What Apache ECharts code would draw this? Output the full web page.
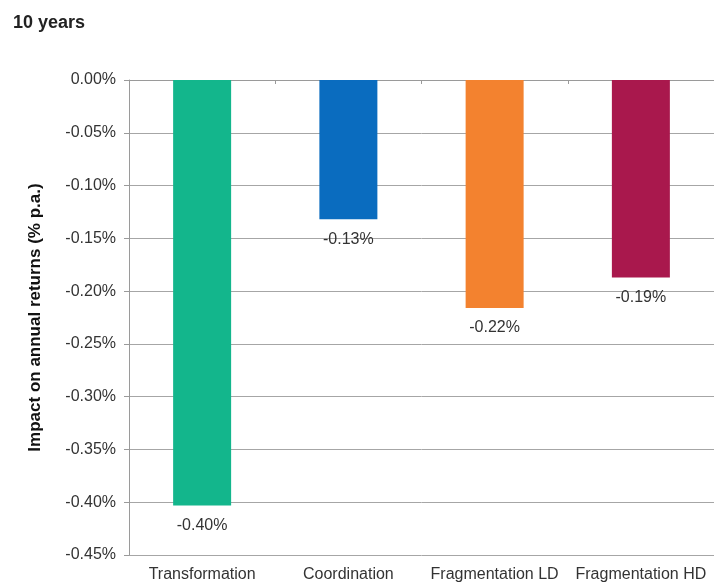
<!DOCTYPE html>
<html>
<head>
<meta charset="utf-8">
<script src="https://cdn.jsdelivr.net/npm/echarts@6/dist/echarts.min.js"></script>
<style>
  html, body { margin: 0; padding: 0; background: #fff; }
  #chart { width: 714px; height: 584px; }
</style>
</head>
<body>
<div id="chart"></div>
<script>
// Impact of each scenario on annual returns over a 10-year horizon (% p.a.)
const categories = ['Transformation', 'Coordination', 'Fragmentation LD', 'Fragmentation HD'];
const impactValues = [-0.403, -0.132, -0.216, -0.187];
const barColors = ['#13b68c', '#0a6cbf', '#f3822f', '#a9184d'];
const yTicks = { min: -0.45, max: 0, interval: 0.05 };

const font = 'Liberation Sans, Arial, sans-serif';
const textColor = '#333333';

const chart = echarts.init(document.getElementById('chart'), null, { renderer: 'canvas' });

chart.setOption({
  animation: false,
  backgroundColor: '#ffffff',
  title: {
    text: '10 years',
    left: 8,
    top: 9,
    textStyle: { fontFamily: font, fontSize: 18, fontWeight: 'bold', color: '#222222' }
  },
  grid: { left: 129, right: 0, top: 80, bottom: 29, containLabel: false },
  xAxis: [
    {
      type: 'category',
      data: categories,
      position: 'bottom',
      axisLine: { show: false },
      axisTick: { show: false },
      axisLabel: { margin: 12, fontFamily: font, fontSize: 16, color: textColor, interval: 0 }
    },
    {
      // zero line at the top with short boundary ticks
      type: 'category',
      data: categories,
      position: 'top',
      axisLine: { show: true, onZero: false, lineStyle: { color: '#9a9a9a', width: 1 } },
      axisTick: { show: true, inside: true, length: 4, lineStyle: { color: '#9a9a9a' } },
      axisLabel: { show: false }
    }
  ],
  yAxis: {
    type: 'value',
    min: yTicks.min,
    max: yTicks.max,
    interval: yTicks.interval,
    name: 'Impact on annual returns (% p.a.)',
    nameLocation: 'middle',
    nameGap: 85,
    nameRotate: 90,
    nameTextStyle: { fontFamily: font, fontSize: 17, fontWeight: 'bold', color: '#111111' },
    axisLine: { show: true, lineStyle: { color: '#9a9a9a', width: 1 } },
    axisTick: { show: true, length: 5, lineStyle: { color: '#9a9a9a' } },
    splitLine: { show: true, lineStyle: { color: '#a6a6a6', width: 1 } },
    axisLabel: {
      margin: 13,
      fontFamily: font,
      fontSize: 16,
      color: textColor,
      formatter: v => v.toFixed(2) + '%'
    }
  },
  series: [{
    type: 'bar',
    xAxisIndex: 0,
    barWidth: 58,
    data: impactValues.map((v, i) => ({ value: v, itemStyle: { color: barColors[i] } })),
    label: {
      show: true,
      position: 'bottom',
      distance: 12,
      fontFamily: font,
      fontSize: 16,
      color: textColor,
      formatter: p => p.value.toFixed(2) + '%'
    }
  }]
});
</script>
</body>
</html>
